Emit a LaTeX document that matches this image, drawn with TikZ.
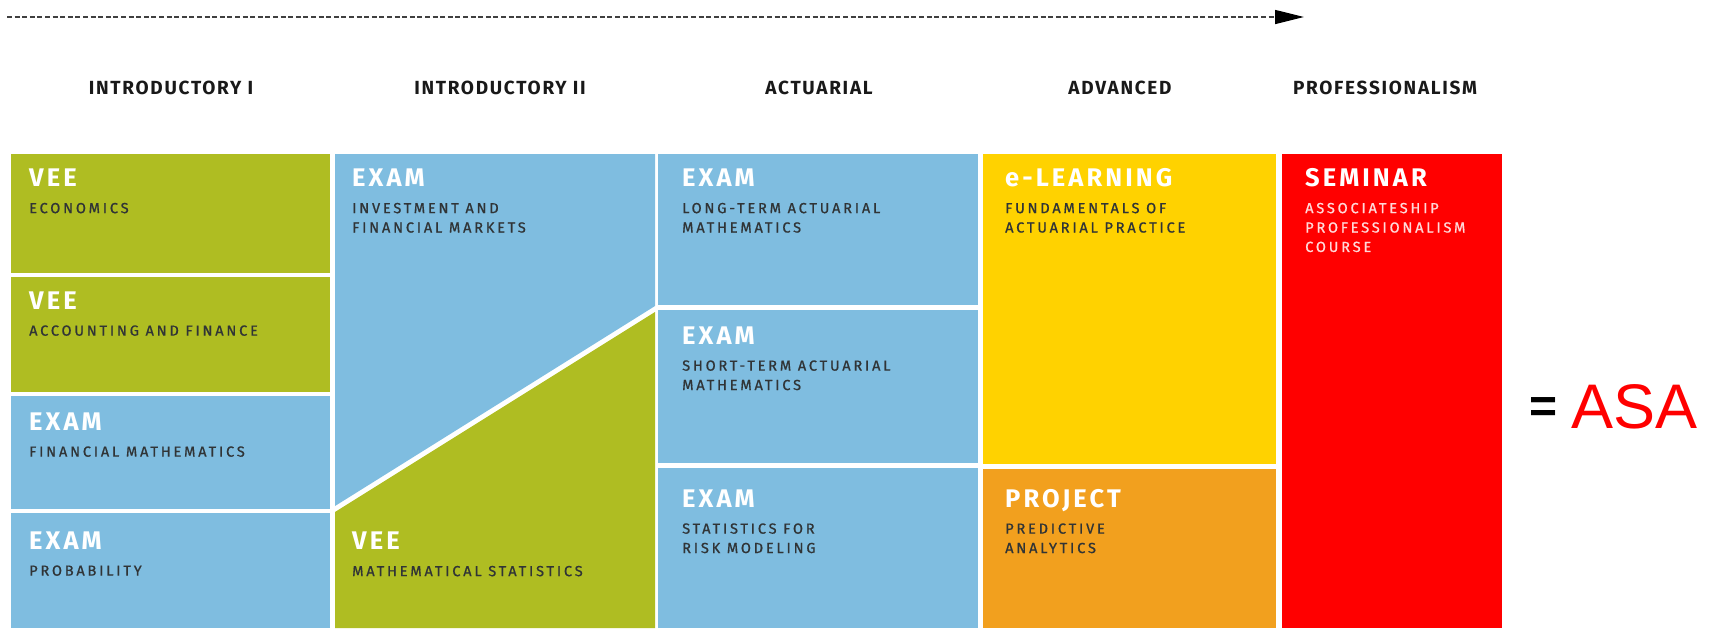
\documentclass[tikz,border=0pt]{standalone}
\usepackage{fontspec}
\setmainfont{Fira Sans}
\newfontfamily\headfont[LetterSpace=9]{Fira Sans}
\newfontfamily\titlefont[LetterSpace=12]{Fira Sans}
\newfontfamily\subfont[LetterSpace=19,FakeBold=0.8]{Fira Sans}
\newfontfamily\asafont{Liberation Sans}
\usetikzlibrary{positioning,arrows.meta}
\definecolor{veegreen}{RGB}{175,189,34}
\definecolor{examblue}{RGB}{127,189,224}
\definecolor{elyellow}{RGB}{255,210,0}
\definecolor{projorange}{RGB}{242,160,30}
\definecolor{semred}{RGB}{255,0,0}
\definecolor{subink}{RGB}{48,52,54}
\newcommand{\subgap}{16.2pt}

\begin{document}
\begin{tikzpicture}[x=1pt,y=-1pt,
    block/.style={anchor=north west, inner sep=0pt, outer sep=0pt, draw=none},
    head/.style={anchor=base, inner sep=0pt, text=black!90, font=\headfont\bfseries\fontsize{19}{19}\selectfont},
    title/.style={anchor=base west, inner sep=0pt, text=white, font=\titlefont\bfseries\fontsize{25.5}{25.5}\selectfont},
    sub/.style={anchor=north west, inner sep=0pt, align=left, text=subink, font=\subfont\fontsize{14.6}{19.4}\selectfont}]
            \useasboundingbox (0,0) rectangle (1710,633);
            \coordinate (tl0) at (7,17);
            \coordinate (tl1) at (1304,17);
            \draw[black!75, line width=1.3pt, dash pattern=on 5pt off 2.6pt, -{Triangle[length=29pt,width=14pt,black]}] (tl0) -- (tl1);

            \node[head] (h1) at (171,94) {INTRODUCTORY I};
            \node[head] (h2) at (500,94) {INTRODUCTORY II};
            \node[head] (h3) at (819,94) {ACTUARIAL};
            \node[head] (h4) at (1120,94) {ADVANCED};
            \node[head] (h5) at (1385,94) {PROFESSIONALISM};

            \begin{scope}[xshift=11pt]
                \node[block, fill=veegreen, minimum width=319pt, minimum height=119pt] (econ) at (0,154) {};
                \node[block, fill=veegreen, minimum width=319pt, minimum height=115pt] (acct) at (0,277) {};
                \node[block, fill=examblue, minimum width=319pt, minimum height=113pt] (finm) at (0,396) {};
                \node[block, fill=examblue, minimum width=319pt, minimum height=115pt] (prob) at (0,513) {};

                \node[title] (econt) at (18,186.5) {VEE};
                \node[below=\subgap of econt.base west, sub] (econs) {ECONOMICS};
                \node[title] (acctt) at (18,309) {VEE};
                \node[below=\subgap of acctt.base west, sub] (accts) {ACCOUNTING AND FINANCE};
                \node[title] (finmt) at (18,430) {EXAM};
                \node[below=\subgap of finmt.base west, sub] (finms) {FINANCIAL MATHEMATICS};
                \node[title] (probt) at (18,549) {EXAM};
                \node[below=\subgap of probt.base west, sub] (probs) {PROBABILITY};
            \end{scope}

            \begin{scope}[xshift=335pt]
                \fill[examblue] (0,154) -- (320,154) -- (320,306) -- (0,506) -- cycle;
                \fill[veegreen] (0,512) -- (320,312) -- (320,628) -- (0,628) -- cycle;

                \node[title] (ifmt) at (17,186.5) {EXAM};
                \node[below=\subgap of ifmt.base west, sub] (ifms) {INVESTMENT AND\\FINANCIAL MARKETS};
                \node[title] (mstt) at (17,549.5) {VEE};
                \node[below=\subgap of mstt.base west, sub] (msts) {MATHEMATICAL STATISTICS};
            \end{scope}

            \begin{scope}[xshift=658pt]
                \node[block, fill=examblue, minimum width=320pt, minimum height=151pt] (ltam) at (0,154) {};
                \node[block, fill=examblue, minimum width=320pt, minimum height=153pt] (stam) at (0,310) {};
                \node[block, fill=examblue, minimum width=320pt, minimum height=160pt] (srm) at (0,468) {};

                \node[title] (ltamt) at (24,186.5) {EXAM};
                \node[below=\subgap of ltamt.base west, sub] (ltams) {LONG-TERM ACTUARIAL\\MATHEMATICS};
                \node[title] (stamt) at (24,344) {EXAM};
                \node[below=\subgap of stamt.base west, sub] (stams) {SHORT-TERM ACTUARIAL\\MATHEMATICS};
                \node[title] (srmt) at (24,507) {EXAM};
                \node[below=\subgap of srmt.base west, sub] (srms) {STATISTICS FOR\\RISK MODELING};
            \end{scope}

            \begin{scope}[xshift=983pt]
                \node[block, fill=elyellow, minimum width=293pt, minimum height=310pt] (fap) at (0,154) {};
                \node[block, fill=projorange, minimum width=293pt, minimum height=159pt] (pa) at (0,469) {};

                \node[title] (fapt) at (22,186.5) {e-LEARNING};
                \node[below=\subgap of fapt.base west, sub] (faps) {FUNDAMENTALS OF\\ACTUARIAL PRACTICE};
                \node[title] (pat) at (22,507) {PROJECT};
                \node[below=\subgap of pat.base west, sub] (pas) {PREDICTIVE\\ANALYTICS};
            \end{scope}

            \begin{scope}[xshift=1282pt]
                \node[block, fill=semred, minimum width=220pt, minimum height=474pt] (apc) at (0,154) {};

                \node[title] (apct) at (23,186.5) {SEMINAR};
                \node[below=\subgap of apct.base west, sub, text=white!85!semred] (apcs) {ASSOCIATESHIP\\PROFESSIONALISM\\COURSE};
            \end{scope}

            \node[inner sep=0pt, font=\asafont\bfseries\fontsize{48}{48}\selectfont] (eq) at (1543.5,410.5) {=};
            \node[anchor=base west, inner sep=0pt, text=semred, font=\asafont\fontsize{63}{63}\selectfont] (asa) at (1571,428) {ASA};
        \end{tikzpicture}
\end{document}
